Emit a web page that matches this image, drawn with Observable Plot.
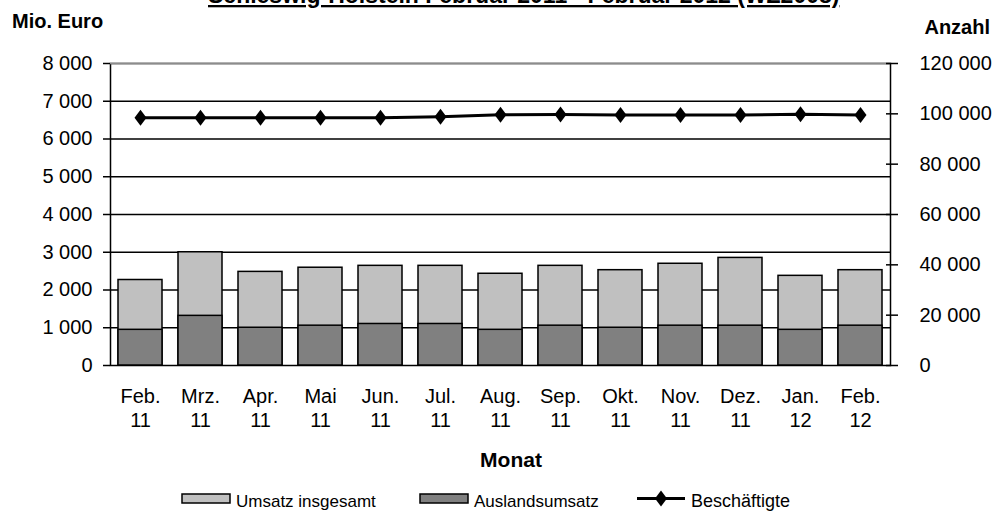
<!DOCTYPE html>
<html><head><meta charset="utf-8">
<script src="https://cdn.jsdelivr.net/npm/d3@7"></script>
<script src="https://cdn.jsdelivr.net/npm/@observablehq/plot@0.6"></script>
<style>
html,body{margin:0;padding:0;background:#fff;}
#chart{width:998px;height:511px;overflow:hidden;}
</style></head><body>
<div id="chart"></div>
<script>
const months = ["Feb.\n11","Mrz.\n11","Apr.\n11","Mai\n11","Jun.\n11","Jul.\n11","Aug.\n11","Sep.\n11","Okt.\n11","Nov.\n11","Dez.\n11","Jan.\n12","Feb.\n12"];
const umsatzInsgesamt = [2265, 3000, 2480, 2590, 2640, 2640, 2430, 2640, 2525, 2695, 2850, 2375, 2525];
const auslandsumsatz = [945, 1315, 1000, 1055, 1100, 1100, 945, 1055, 1000, 1055, 1055, 945, 1055];
const beschaeftigte = [98400, 98400, 98400, 98400, 98400, 98800, 99600, 99700, 99500, 99500, 99500, 99800, 99500];
const leftTicks = [0, 1000, 2000, 3000, 4000, 5000, 6000, 7000, 8000];
const rightTicks = [0, 20000, 40000, 60000, 80000, 100000, 120000];
const gridValues = [1000, 2000, 3000, 4000, 5000, 6000, 7000];

const title = "Schleswig-Holstein Februar 2011 - Februar 2012 (WZ2008)";
const leftTitle = "Mio. Euro";
const rightTitle = "Anzahl";
const xTitle = "Monat";
const legendLabels = ["Umsatz insgesamt", "Auslandsumsatz", "Beschäftigte"];

const ratio = 120000 / 8000;
const fmt = d3.formatLocale({decimal: ",", thousands: " ", grouping: [3], currency: ["", ""]}).format(",d");

const data = months.map((m, i) => ({month: m, total: umsatzInsgesamt[i], foreign: auslandsumsatz[i], emp: beschaeftigte[i]}));

const diamond = {draw(ctx) { ctx.moveTo(0, -8); ctx.lineTo(6, 0); ctx.lineTo(0, 8); ctx.lineTo(-6, 0); ctx.closePath(); }};

const svg = Plot.plot({
  width: 998,
  height: 511,
  marginTop: 63,
  marginBottom: 146,
  marginLeft: 110,
  marginRight: 108,
  style: {fontFamily: "'Liberation Sans', Arial, sans-serif", fontSize: "20px", background: "white", color: "black", overflow: "visible"},
  x: {type: "band", domain: months, paddingInner: 0.27, paddingOuter: 0.135},
  y: {domain: [0, 8000]},
  marks: [
    Plot.ruleY(gridValues, {stroke: "black", strokeWidth: 1.5}),
    Plot.frame({stroke: "black", strokeWidth: 1.5}),
    Plot.ruleY([8000], {stroke: "#8c8c8c", strokeWidth: 1.5}),
    Plot.barY(data, {x: "month", y: "total", fill: "#c0c0c0", stroke: "black", strokeWidth: 1.5}),
    Plot.barY(data, {x: "month", y: "foreign", fill: "#808080", stroke: "black", strokeWidth: 1.5}),
    Plot.line(data, {x: "month", y: d => d.emp / ratio, stroke: "black", strokeWidth: 3}),
    Plot.dot(data, {x: "month", y: d => d.emp / ratio, symbol: diamond, fill: "black", stroke: null}),
    Plot.axisY(leftTicks, {anchor: "left", tickSize: 7, tickPadding: 11, strokeWidth: 1.5, tickFormat: fmt, label: null}),
    Plot.axisY(rightTicks.map(v => v / ratio), {anchor: "right", tickSize: 12, dx: -5, strokeWidth: 1.5, tickFormat: () => "", label: null}),
    Plot.axisY(rightTicks.map(v => v / ratio), {anchor: "right", tickSize: 0, tickPadding: 29, textAnchor: "start", tickFormat: d => fmt(Math.round(d * ratio)), label: null}),
    Plot.axisX({anchor: "bottom", tickSize: 0, tickPadding: 20, lineHeight: 1.2, label: null})
  ]
});

const s = d3.select(svg);
const font = "'Liberation Sans', Arial, sans-serif";
const t = s.append("g").attr("font-family", font).attr("text-anchor", "start").attr("fill", "black");
t.append("text").attr("x", 208).attr("y", 3).attr("font-size", 23).attr("font-weight", "bold")
  .attr("text-decoration", "underline").text(title);
t.append("text").attr("x", 12).attr("y", 28).attr("font-size", 20).attr("font-weight", "bold").text(leftTitle);
t.append("text").attr("x", 990).attr("y", 34).attr("text-anchor", "end").attr("font-size", 20).attr("font-weight", "bold").text(rightTitle);
t.append("text").attr("x", 511).attr("y", 467).attr("text-anchor", "middle").attr("font-size", 21).attr("font-weight", "bold").text(xTitle);

// legend
const lg = s.append("g").attr("font-family", font).attr("font-size", 17).attr("text-anchor", "start");
lg.append("rect").attr("x", 182).attr("y", 494).attr("width", 48).attr("height", 9).attr("fill", "#c0c0c0").attr("stroke", "black").attr("stroke-width", 1.5);
lg.append("text").attr("x", 236).attr("y", 507).text(legendLabels[0]);
lg.append("rect").attr("x", 420).attr("y", 494).attr("width", 48).attr("height", 9).attr("fill", "#808080").attr("stroke", "black").attr("stroke-width", 1.5);
lg.append("text").attr("x", 474).attr("y", 507).text(legendLabels[1]);
lg.append("line").attr("x1", 637).attr("x2", 685).attr("y1", 498.5).attr("y2", 498.5).attr("stroke", "black").attr("stroke-width", 3);
lg.append("path").attr("d", "M661,490.5L667,498.5L661,506.5L655,498.5Z").attr("fill", "black");
lg.append("text").attr("x", 691).attr("y", 507).attr("font-size", 18).text(legendLabels[2]);

document.getElementById("chart").appendChild(svg);
</script>
</body></html>
